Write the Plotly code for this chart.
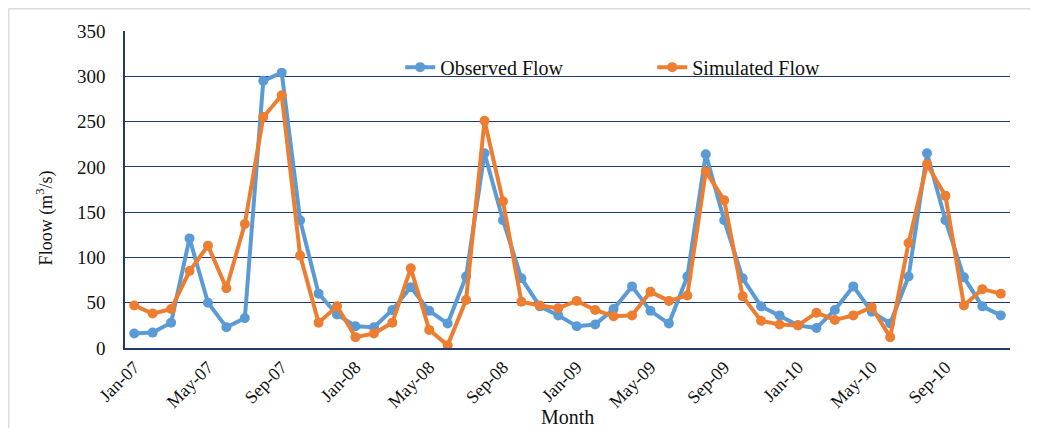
import plotly.graph_objects as go

months = ["Jan-07", "Feb-07", "Mar-07", "Apr-07", "May-07", "Jun-07", "Jul-07", "Aug-07",
          "Sep-07", "Oct-07", "Nov-07", "Dec-07",
          "Jan-08", "Feb-08", "Mar-08", "Apr-08", "May-08", "Jun-08", "Jul-08", "Aug-08",
          "Sep-08", "Oct-08", "Nov-08", "Dec-08",
          "Jan-09", "Feb-09", "Mar-09", "Apr-09", "May-09", "Jun-09", "Jul-09", "Aug-09",
          "Sep-09", "Oct-09", "Nov-09", "Dec-09",
          "Jan-10", "Feb-10", "Mar-10", "Apr-10", "May-10", "Jun-10", "Jul-10", "Aug-10",
          "Sep-10", "Oct-10", "Nov-10", "Dec-10"]

observed = [16, 17, 28, 121, 50, 23, 33, 295, 304, 141, 60, 37,
            24, 23, 42, 67, 41, 27, 79, 215, 141, 77, 46, 36,
            24, 26, 43, 68, 41, 27, 79, 214, 141, 77, 46, 36,
            25, 22, 42, 68, 40, 27, 79, 215, 141, 78, 46, 36]

simulated = [47, 38, 43, 85, 113, 66, 137, 255, 279, 102, 28, 46,
             12, 16, 28, 88, 20, 3, 53, 251, 162, 51, 47, 44,
             52, 42, 35, 36, 62, 52, 58, 195, 163, 57, 30, 26,
             25, 39, 31, 36, 45, 12, 116, 203, 168, 47, 65, 60]

tick_labels = ["Jan-07", "May-07", "Sep-07", "Jan-08", "May-08", "Sep-08",
               "Jan-09", "May-09", "Sep-09", "Jan-10", "May-10", "Sep-10"]
y_ticks = [0, 50, 100, 150, 200, 250, 300, 350]

FONT = "Liberation Serif"
BLUE = "#5B9BD5"
ORANGE = "#ED7D31"
NAVY = "#1F3A6E"
TXT = "#111111"

fig = go.Figure()
fig.add_trace(go.Scatter(x=months, y=observed, name="Observed Flow", mode="lines+markers",
                         line=dict(color=BLUE, width=4), marker=dict(size=10, color=BLUE)))
fig.add_trace(go.Scatter(x=months, y=simulated, name="Simulated Flow", mode="lines+markers",
                         line=dict(color=ORANGE, width=4), marker=dict(size=10, color=ORANGE)))

fig.update_layout(
    width=1030, height=420,
    margin=dict(l=117, r=28, t=23, b=80),
    paper_bgcolor="white", plot_bgcolor="white",
    font=dict(family=FONT, color=TXT),
    showlegend=True,
    legend=dict(orientation="h", x=0.311, xanchor="left", y=0.886, yanchor="middle",
                font=dict(family=FONT, size=20, color=TXT),
                bgcolor="rgba(0,0,0,0)", entrywidth=207, entrywidthmode="pixels"),
    xaxis=dict(type="category", categoryorder="array", categoryarray=months,
               range=[-0.5, len(months) - 0.5],
               tickmode="array", tickvals=tick_labels, ticktext=tick_labels,
               tickangle=-45, tickfont=dict(family=FONT, size=18, color=TXT),
               showgrid=False, showline=True, linecolor=NAVY, linewidth=1.5,
               ticks="", zeroline=False),
    yaxis=dict(range=[0, 350], tickvals=y_ticks, tickfont=dict(family=FONT, size=19, color=TXT),
               showgrid=True, gridcolor=NAVY, gridwidth=1,
               showline=True, linecolor=NAVY, linewidth=1.5, ticks="", zeroline=False,
               ticklabelstandoff=14),
    annotations=[
        dict(text="Floow (m<sup>3</sup>/s)", xref="paper", yref="paper", x=-0.09, y=0.41,
             xanchor="center", yanchor="middle",
             showarrow=False, textangle=-90, font=dict(family=FONT, size=18, color=TXT)),
        dict(text="Month", xref="paper", yref="paper", x=0.5, y=-0.218,
             xanchor="center", yanchor="middle",
             showarrow=False, font=dict(family=FONT, size=20, color=TXT)),
    ],
    shapes=[
        dict(type="line", xref="paper", yref="paper", x0=-0.1314, x1=1.035, y0=1.0702, y1=1.0702,
             line=dict(color="#DCDCDC", width=1.5)),
        dict(type="line", xref="paper", yref="paper", x0=-0.1314, x1=-0.1314, y0=1.0702, y1=-0.26,
             line=dict(color="#DCDCDC", width=1.5)),
    ],
)

fig.write_html("out.html")
